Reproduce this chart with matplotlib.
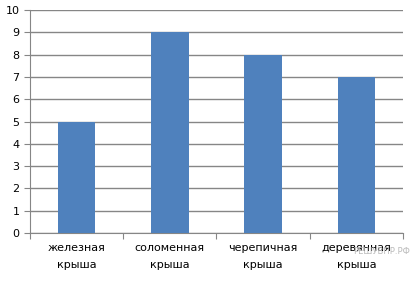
import matplotlib
matplotlib.use("Agg")
from matplotlib import pyplot as plt

categories = ["железная\nкрыша", "соломенная\nкрыша", "черепичная\nкрыша", "деревянная\nкрыша"]
values = [5, 9, 8, 7]
yticks = list(range(0, 11))

fig = plt.figure(figsize=(4.2, 2.81), dpi=100)
ax = fig.add_axes([30 / 420, 1 - 233 / 281, 373 / 420, 223 / 281])

x = range(len(categories))
ax.bar(x, values, width=0.4, color="#4F81BD", zorder=3)

ax.set_xlim(-0.5, len(categories) - 0.5)
ax.set_ylim(0, 10)
ax.set_yticks(yticks)
ax.yaxis.grid(True, color="#868686", linewidth=1, zorder=0)

# ticks on category boundaries, labels at centres
ax.set_xticks([i - 0.5 for i in range(len(categories) + 1)])
ax.set_xticklabels([])
ax.set_xticks(list(x), minor=True)
ax.set_xticklabels(categories, minor=True, fontsize=8, linespacing=1.9)
ax.tick_params(axis="x", which="major", direction="out", length=4, color="#868686")
ax.tick_params(axis="x", which="minor", length=0, pad=7)
ax.tick_params(axis="y", direction="out", length=4, color="#868686", labelsize=8)

for side in ["top", "right"]:
    ax.spines[side].set_visible(False)
for side in ["left", "bottom"]:
    ax.spines[side].set_color("#868686")

# watermark, overlaps the last label as in the original
fig.text(0.975, 1 - 252 / 281, "РЕШУВПР.РФ", fontsize=6, color="#BBBBBB",
         ha="right", va="center")

fig.savefig("out.png", dpi=100)
